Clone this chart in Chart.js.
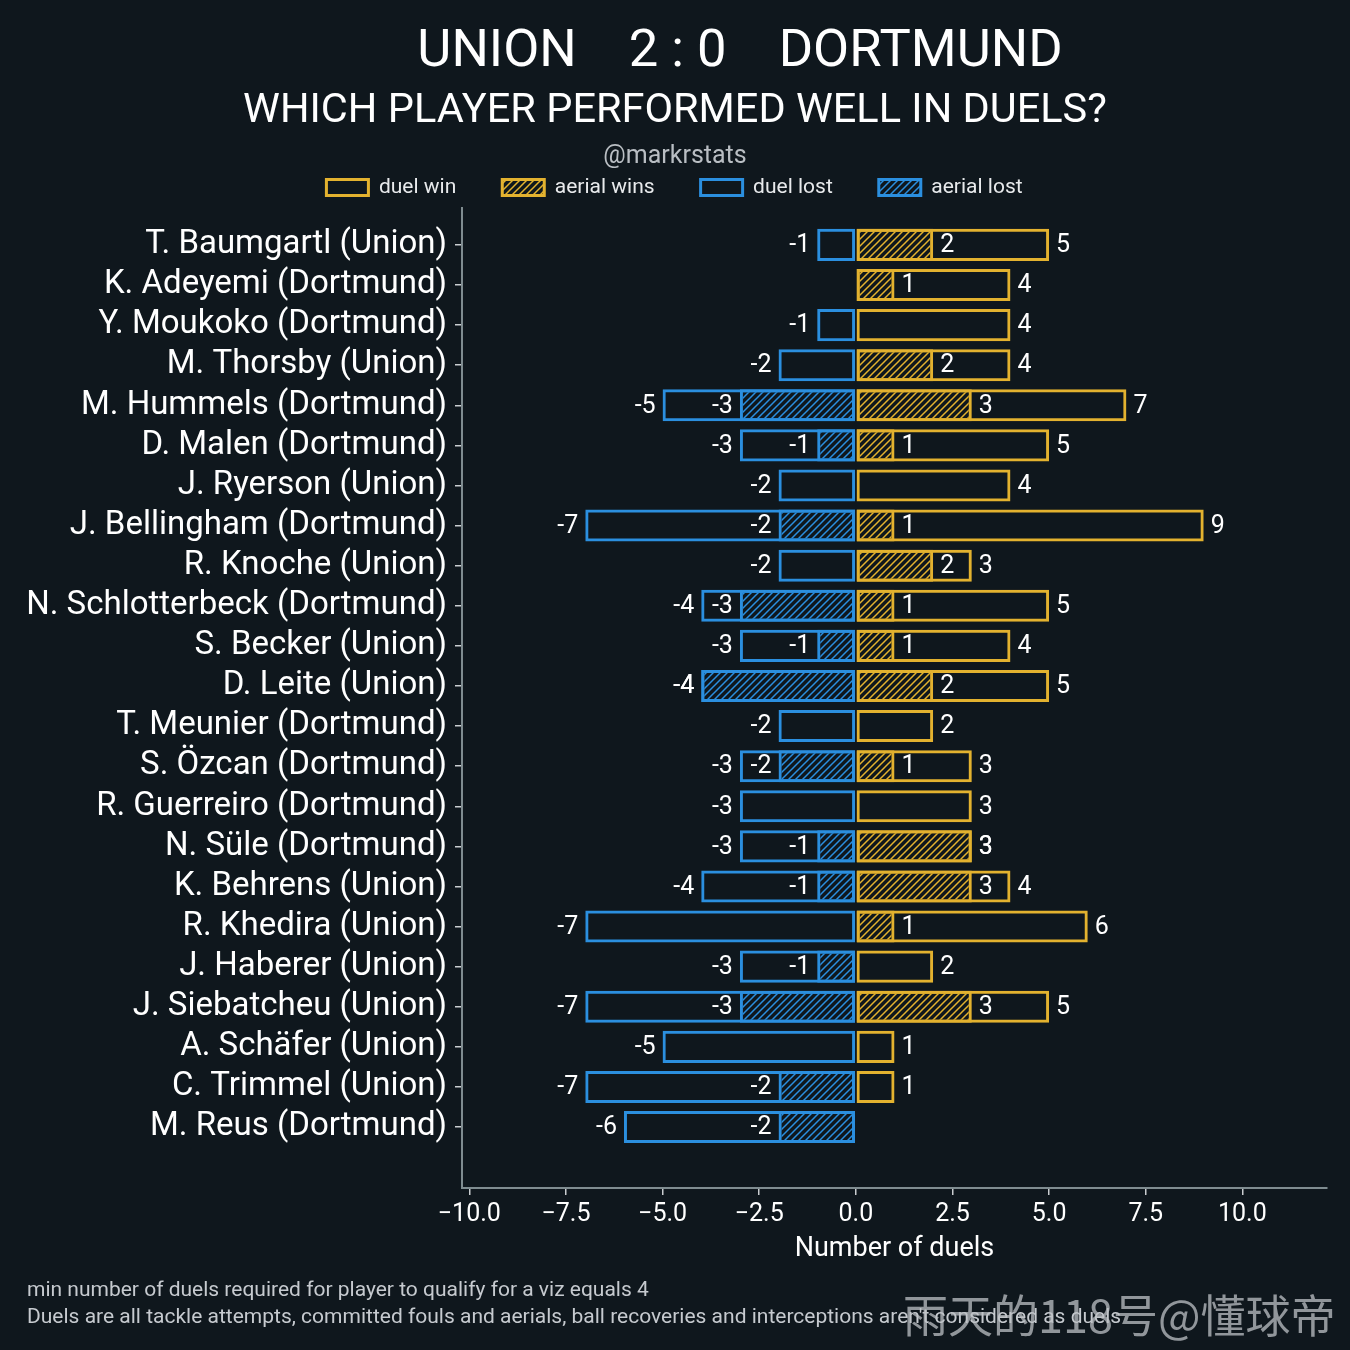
<!DOCTYPE html>
<html>
<head>
<meta charset="utf-8">
<script src="https://cdn.jsdelivr.net/npm/chart.js@4.4.1/dist/chart.umd.min.js"></script>
<style>
  html, body { margin: 0; padding: 0; background: #0f171d; }
  #wrap { position: relative; width: 1350px; height: 1350px; overflow: hidden; }
  canvas { position: absolute; left: 0; top: 0; }
  .txt { position: absolute; white-space: pre; font-family: Roboto, sans-serif; line-height: 1; }
  .c { transform: translate(-50%, -50%); }
  .l { transform: translate(0, -50%); }
</style>
</head>
<body>
<div id="wrap">
  <canvas id="chart" width="1350" height="1350"></canvas>
  <div class="txt c" style="left:740px; top:48px; font-size:52.5px; color:#ffffff;">UNION    2 : 0    DORTMUND</div>
  <div class="txt c" style="left:675px; top:108px; font-size:41.5px; color:#ffffff;">WHICH PLAYER PERFORMED WELL IN DUELS?</div>
  <div class="txt c" style="left:675px; top:154px; font-size:25px; color:#b9bec3;">@markrstats</div>
  <div class="txt l" style="left:27px; top:1289px; font-size:21px; color:#c6cacf;">min number of duels required for player to qualify for a viz equals 4</div>
  <div class="txt l" style="left:27px; top:1316px; font-size:21px; color:#c6cacf;">Duels are all tackle attempts, committed fouls and aerials, ball recoveries and interceptions aren't considered as duels</div>
  <div class="txt l" style="left:903px; top:1313px; font-size:45px; color:rgba(190,194,198,0.75); font-family:'Noto Sans CJK SC', sans-serif;">雨天的118号@懂球帝</div>
</div>
<script>
const players = [
    'T. Baumgartl (Union)', 'K. Adeyemi (Dortmund)', 'Y. Moukoko (Dortmund)', 'M. Thorsby (Union)',
    'M. Hummels (Dortmund)', 'D. Malen (Dortmund)', 'J. Ryerson (Union)', 'J. Bellingham (Dortmund)',
    'R. Knoche (Union)', 'N. Schlotterbeck (Dortmund)', 'S. Becker (Union)', 'D. Leite (Union)',
    'T. Meunier (Dortmund)', 'S. Özcan (Dortmund)', 'R. Guerreiro (Dortmund)', 'N. Süle (Dortmund)',
    'K. Behrens (Union)', 'R. Khedira (Union)', 'J. Haberer (Union)', 'J. Siebatcheu (Union)',
    'A. Schäfer (Union)', 'C. Trimmel (Union)', 'M. Reus (Dortmund)'
];
const duelWin    = [5, 4, 4, 4, 7, 5, 4, 9, 3, 5, 4, 5, 2, 3, 3, 3, 4, 6, 2, 5, 1, 1, 0];
const aerialWin  = [2, 1, 0, 2, 3, 1, 0, 1, 2, 1, 1, 2, 0, 1, 0, 3, 3, 1, 0, 3, 0, 0, 0];
const duelLost   = [-1, 0, -1, -2, -5, -3, -2, -7, -2, -4, -3, -4, -2, -3, -3, -3, -4, -7, -3, -7, -5, -7, -6];
const aerialLost = [0, 0, 0, 0, -3, -1, 0, -2, 0, -3, -1, -4, 0, -2, 0, -1, -1, 0, -1, -3, 0, -2, -2];
const xTicks = [-10, -7.5, -5, -2.5, 0, 2.5, 5, 7.5, 10];

const GOLD = '#e3b22f';
const BLUE = '#2b8fdf';

function hatch(color) {
    const c = document.createElement('canvas');
    c.width = c.height = 7;
    const g = c.getContext('2d');
    g.strokeStyle = color;
    g.lineWidth = 1.5;
    g.beginPath();
    g.moveTo(0, 7); g.lineTo(7, 0);
    g.moveTo(-2, 2); g.lineTo(2, -2);
    g.moveTo(5, 9); g.lineTo(9, 5);
    g.stroke();
    return g.createPattern(c, 'repeat');
}

// zero values get no bar and no label
function toPoints(arr) {
    return arr.map((v, i) => ({ x: v === 0 ? null : v, y: i }));
}

function barSet(label, values, color, hatched) {
    return {
        label: label,
        data: toPoints(values),
        backgroundColor: hatched ? hatch(color) : 'rgba(0,0,0,0)',
        borderColor: color,
        borderWidth: 3,
        borderSkipped: false,
        grouped: false,
        categoryPercentage: 0.8,
        barPercentage: 1
    };
}

// value labels at the end of every bar
const valueLabels = {
    id: 'valueLabels',
    afterDatasetsDraw(chart) {
        const ctx = chart.ctx;
        ctx.save();
        ctx.font = '25px Roboto';
        ctx.fillStyle = '#ffffff';
        ctx.textBaseline = 'middle';
        chart.data.datasets.forEach((ds, di) => {
            const meta = chart.getDatasetMeta(di);
            meta.data.forEach((el, i) => {
                const v = ds.data[i].x;
                if (v === null) return;
                if (v > 0) {
                    ctx.textAlign = 'left';
                    ctx.fillText(String(v), el.x + 7, el.y + 1);
                } else {
                    ctx.textAlign = 'right';
                    ctx.fillText('-' + Math.abs(v), el.x - 7, el.y + 1);
                }
            });
        });
        ctx.restore();
    }
};

Chart.defaults.font.family = 'Roboto';
Chart.defaults.color = '#ffffff';

new Chart(document.getElementById('chart'), {
    type: 'bar',
    data: {
        datasets: [
            barSet('duel win', duelWin, GOLD, false),
            barSet('aerial wins', aerialWin, GOLD, true),
            barSet('duel lost', duelLost, BLUE, false),
            barSet('aerial lost', aerialLost, BLUE, true)
        ]
    },
    options: {
        indexAxis: 'y',
        responsive: false,
        animation: false,
        layout: { padding: { left: 22, right: 23, top: 131, bottom: 81 } },
        plugins: {
            legend: {
                position: 'top',
                labels: {
                    boxWidth: 42,
                    boxHeight: 16,
                    padding: 46,
                    color: '#e8eaec',
                    font: { size: 21 }
                }
            },
            tooltip: { enabled: false }
        },
        scales: {
            x: {
                type: 'linear',
                min: -10.19,
                max: 12.19,
                afterBuildTicks: s => { s.ticks = xTicks.map(v => ({ value: v })); },
                afterFit: s => { s.height = 81; },
                ticks: {
                    color: '#ffffff',
                    font: { size: 25 },
                    padding: 5,
                    callback: v => (v < 0 ? '\u2212' : '') + Math.abs(v).toFixed(1)
                },
                grid: { drawOnChartArea: false, drawTicks: true, tickLength: 7, color: '#c9cdd0', lineWidth: 1.5 },
                border: { display: true, color: '#7f8c90', width: 2 },
                title: { display: true, text: 'Number of duels', color: '#ffffff', font: { size: 27 } }
            },
            y: {
                type: 'linear',
                reverse: true,
                offset: false,
                min: -0.92,
                max: 23.52,
                afterBuildTicks: s => { s.ticks = players.map((p, i) => ({ value: i })); },
                afterFit: s => { s.width = 440; },
                ticks: {
                    color: '#ffffff',
                    font: { size: 33 },
                    padding: 8,
                    autoSkip: false,
                    callback: v => players[v]
                },
                grid: { offset: false, drawOnChartArea: false, drawTicks: true, tickLength: 7, color: '#c9cdd0', lineWidth: 1.5 },
                border: { display: true, color: '#7f8c90', width: 2 }
            }
        }
    },
    plugins: [valueLabels]
});
</script>
</body>
</html>
